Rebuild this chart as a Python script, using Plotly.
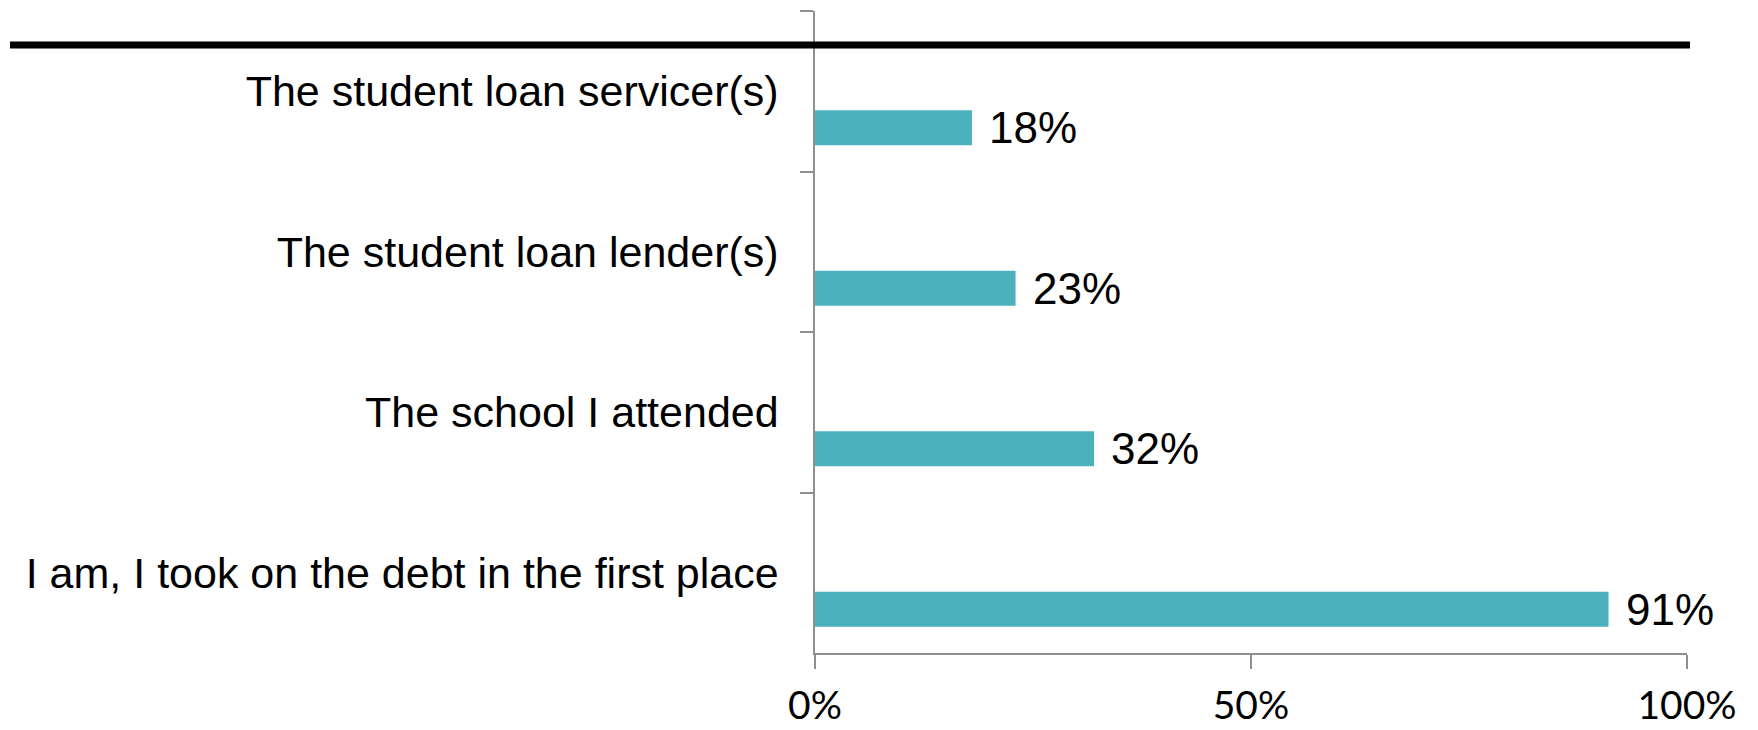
import plotly.graph_objects as go

# Survey responses: who is responsible for the student debt (top to bottom)
categories = [
    "The student loan servicer(s)",
    "The student loan lender(s)",
    "The school I attended",
    "I am, I took on the debt in the first place",
]
shares = [0.18, 0.23, 0.32, 0.91]
x_tick_values = [0, 0.5, 1.0]
x_tick_labels = ["0%", "50%", "100%"]

BAR_COLOR = "#4bb1bd"
AXIS_COLOR = "#8f8f8f"
W, H = 1758, 730
M_L, M_R, M_T, M_B = 815, 71, 11, 77

# bars sit in the lower part of each category band
BAR_WIDTH = 0.218
BAR_SHIFT = 0.2275

fig = go.Figure()
fig.add_trace(go.Bar(
    x=shares,
    y=categories,
    orientation="h",
    marker=dict(color=BAR_COLOR, line=dict(width=0)),
    width=BAR_WIDTH,
    offset=BAR_SHIFT - BAR_WIDTH / 2,
    hoverinfo="skip",
))

for i, v in enumerate(shares):
    fig.add_annotation(
        x=v, y=i + BAR_SHIFT, xref="x", yref="y",
        text=f"{round(v * 100)}%",
        showarrow=False, xanchor="left", yanchor="middle", xshift=15,
        font=dict(family="Liberation Sans, Arial, sans-serif", size=44, color="black"),
    )

# thick black rule across the top of the chart
plot_w = W - M_L - M_R
plot_h = H - M_T - M_B
def px_x(p):
    return (p - M_L) / plot_w
def px_y(p):
    return (H - M_B - p) / plot_h

fig.add_shape(
    type="line", xref="paper", yref="paper",
    x0=px_x(10), x1=px_x(1690), y0=px_y(45), y1=px_y(45),
    line=dict(color="black", width=7),
)

fig.update_layout(
    width=W, height=H,
    margin=dict(l=M_L, r=M_R, t=M_T, b=M_B, autoexpand=False),
    paper_bgcolor="white", plot_bgcolor="white",
    showlegend=False,
    xaxis=dict(
        range=[0, 1], tickvals=x_tick_values, ticktext=x_tick_labels,
        showgrid=False, zeroline=False, automargin=False,
        showline=True, linecolor=AXIS_COLOR, linewidth=1.5,
        ticks="outside", ticklen=14, tickcolor=AXIS_COLOR, tickwidth=1.5,
        tickfont=dict(family="Lato, Liberation Sans, sans-serif", size=39, color="black"),
        ticklabelstandoff=3,
    ),
    yaxis=dict(
        type="category", categoryorder="array", categoryarray=categories,
        range=[3.5, -0.5],
        tickson="boundaries", automargin=False,
        showgrid=False, zeroline=False,
        showline=True, linecolor=AXIS_COLOR, linewidth=1.5,
        ticks="outside", ticklen=13, tickcolor=AXIS_COLOR, tickwidth=1.5,
        tickfont=dict(family="Liberation Sans, Arial, sans-serif", size=43, color="black"),
        ticklabelstandoff=26,
    ),
)

fig.write_html("out.html")
